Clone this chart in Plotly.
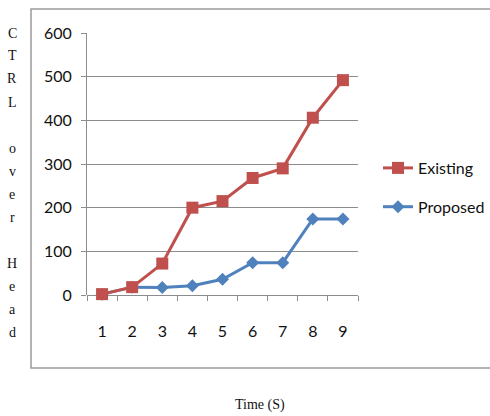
import plotly.graph_objects as go

# Time steps and control overhead for the two schemes
time_s = [1, 2, 3, 4, 5, 6, 7, 8, 9]
existing = [2, 18, 72, 200, 215, 268, 290, 406, 492]
proposed = [2, 18, 17, 21, 36, 74, 74, 174, 174]
y_ticks = [0, 100, 200, 300, 400, 500, 600]

RED = "#C0504D"
BLUE = "#4F81BD"
GRID = "#8C8C8C"
LABEL_FONT = "Lato, 'Open Sans', sans-serif"
SERIF = "'Liberation Serif', 'Times New Roman', serif"

fig = go.Figure()

# Proposed drawn first so the Existing series sits on top
fig.add_trace(go.Scatter(
    x=time_s, y=proposed, name="Proposed", mode="lines+markers",
    line=dict(color=BLUE, width=3),
    marker=dict(symbol="diamond", size=10, color=BLUE),
    legendgroup="b", legendrank=2, cliponaxis=False,
))
fig.add_trace(go.Scatter(
    x=time_s, y=existing, name="Existing", mode="lines+markers",
    line=dict(color=RED, width=3),
    marker=dict(symbol="square", size=12, color=RED),
    legendgroup="a", legendrank=1, cliponaxis=False,
))

W, H = 490, 416
L, R, T, B = 87, 132, 33, 121
pw, ph = W - L - R, H - T - B

def px_x(x):
    return (x - L) / pw

def px_y(y):
    return (H - B - y) / ph

# Outer chart frame
fig.add_shape(type="rect", xref="paper", yref="paper",
              x0=px_x(31), x1=px_x(500), y0=px_y(368), y1=px_y(9),
              line=dict(color="#9A9A9A", width=1.5), layer="below")

# Vertical, letter-stacked y-axis title
title_rows = ["C", "T", "R", "L", "", "o", "v", "e", "r", "", "H", "e", "a", "d"]
for i, ch in enumerate(title_rows):
    if ch:
        fig.add_annotation(text=ch, xref="paper", yref="paper",
                           x=px_x(12), y=px_y(33 + 23 * i),
                           xanchor="center", yanchor="middle", showarrow=False,
                           font=dict(family=SERIF, size=14, color="#111111"))

fig.add_annotation(text="Time (S)", xref="paper", yref="paper",
                   x=px_x(260), y=px_y(405), xanchor="center", yanchor="middle",
                   showarrow=False, font=dict(family=SERIF, size=14, color="#111111"))

fig.update_layout(
    width=W, height=H,
    margin=dict(l=L, r=R, t=T, b=B, autoexpand=False),
    paper_bgcolor="white", plot_bgcolor="white",
    font=dict(family=LABEL_FONT, size=16, color="#111111"),
    legend=dict(x=px_x(378), y=px_y(151), xanchor="left", yanchor="top",
                traceorder="grouped", tracegroupgap=15,
                font=dict(family=LABEL_FONT, size=16, color="#111111"),
                bgcolor="rgba(0,0,0,0)"),
    xaxis=dict(range=[0.5, 9.5], tickvals=time_s, ticks="", showgrid=False,
               zeroline=False, showline=False, ticklabelstandoff=25,
               minor=dict(tick0=0.5, dtick=1, ticks="outside", ticklen=5,
                          tickcolor=GRID, showgrid=False)),
    yaxis=dict(range=[0, 600], tickvals=y_ticks, ticks="outside", ticklen=5,
               tickcolor=GRID, gridcolor=GRID, gridwidth=1, zeroline=True,
               zerolinecolor=GRID, zerolinewidth=1, showline=True,
               linecolor=GRID, linewidth=1, ticklabelstandoff=6),
)

fig.write_html("out.html")
